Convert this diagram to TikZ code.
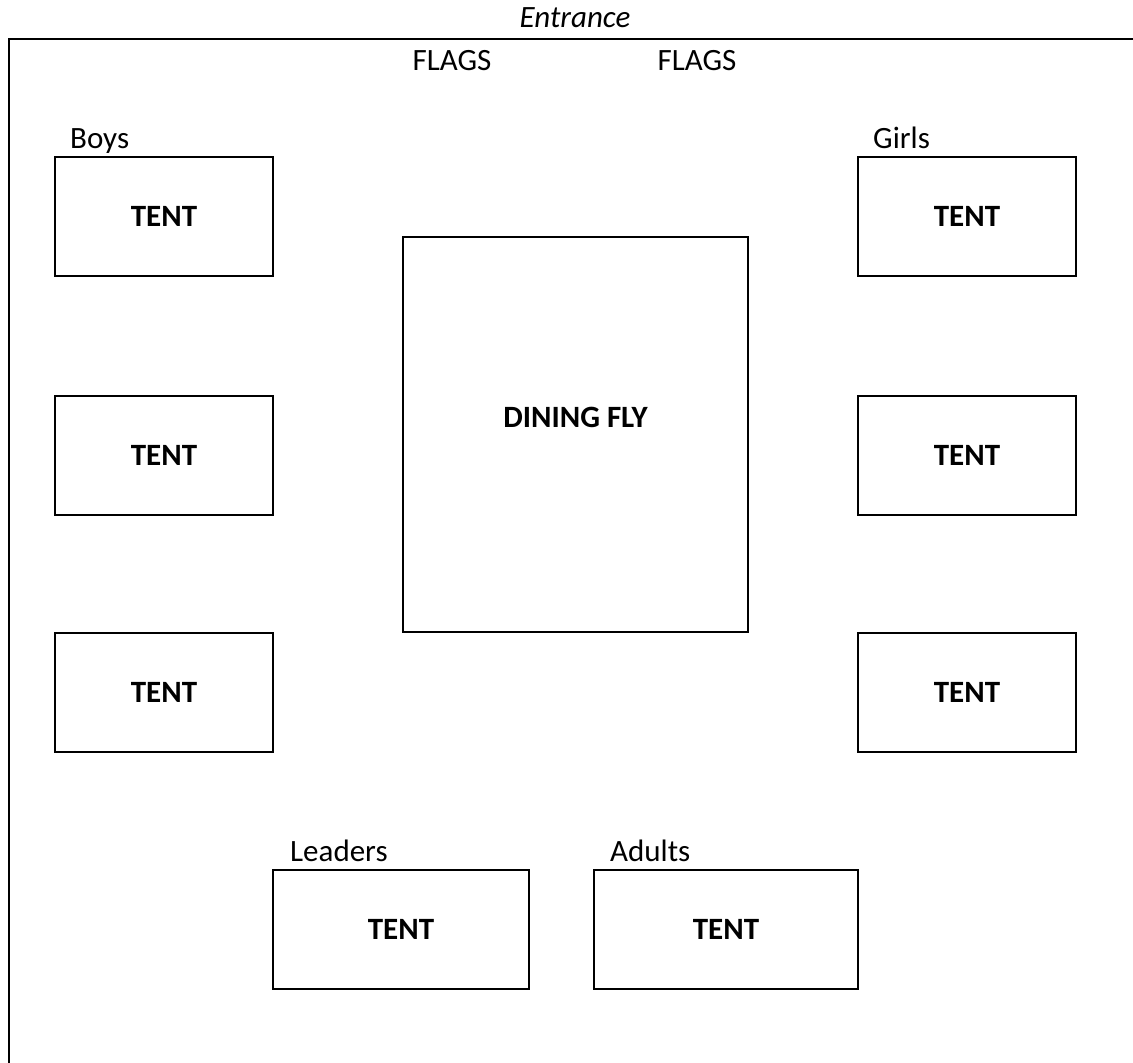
\documentclass[tikz,border=0pt]{standalone}
\usepackage{fontspec}
\setmainfont{Carlito}
\usepackage{tikz}
\usetikzlibrary{positioning}

\newcommand{\campsize}{\fontsize{31}{37}\selectfont}

\begin{document}
\begin{tikzpicture}[
    x=1pt, y=-1pt,
    tent/.style={draw=black, line width=2pt, minimum width=218pt,
                minimum height=119pt, inner sep=0pt, font=\campsize\bfseries},
    fly/.style={draw=black, line width=2pt, minimum width=345pt,
                minimum height=395pt, inner sep=0pt},
    tag/.style={anchor=base west, inner sep=0pt, font=\campsize},
    plain/.style={inner sep=0pt, font=\campsize},
    bold/.style={inner sep=0pt, font=\campsize\bfseries},
    wall/.style={line width=2pt},
]
\useasboundingbox (0,0) rectangle (1133,1063);

% --- Site boundary ---
\coordinate (gate) at (1133,39);
\coordinate (corner) at (9,39);
\coordinate (foot) at (9,1063);
\draw[wall] (gate) -- (corner) -- (foot);
\node[plain, font=\campsize\itshape] (entrance) at (575,18) {Entrance};
\node[plain] (flagsl) at (452,61) {FLAGS};
\node[plain] (flagsr) at (697,61) {FLAGS};

% --- Boys (left column) ---
\node[tag] (boys) at (70,148) {Boys};
\node[tent] (b1) at (164,216.5) {TENT};
\node[tent] (b2) at (164,455) {TENT};
\node[tent] (b3) at (164,692) {TENT};

% --- Girls (right column) ---
\node[tag] (girls) at (873,148) {Girls};
\node[tent] (g1) at (967,216.5) {TENT};
\node[tent] (g2) at (967,455) {TENT};
\node[tent] (g3) at (967,692) {TENT};

% --- Dining fly ---
\node[fly] (dining) at (575.5,434.5) {};
\node[bold] (diningtext) at (575.5,417) {DINING FLY};

% --- Leaders and adults ---
\node[tag] (leaders) at (290,861) {Leaders};
\node[tent, minimum width=256pt] (lt) at (401,929) {TENT};
\node[tag] (adults) at (610,861) {Adults};
\node[tent, minimum width=264pt] (at) at (726,929) {TENT};

\end{tikzpicture}
\end{document}
